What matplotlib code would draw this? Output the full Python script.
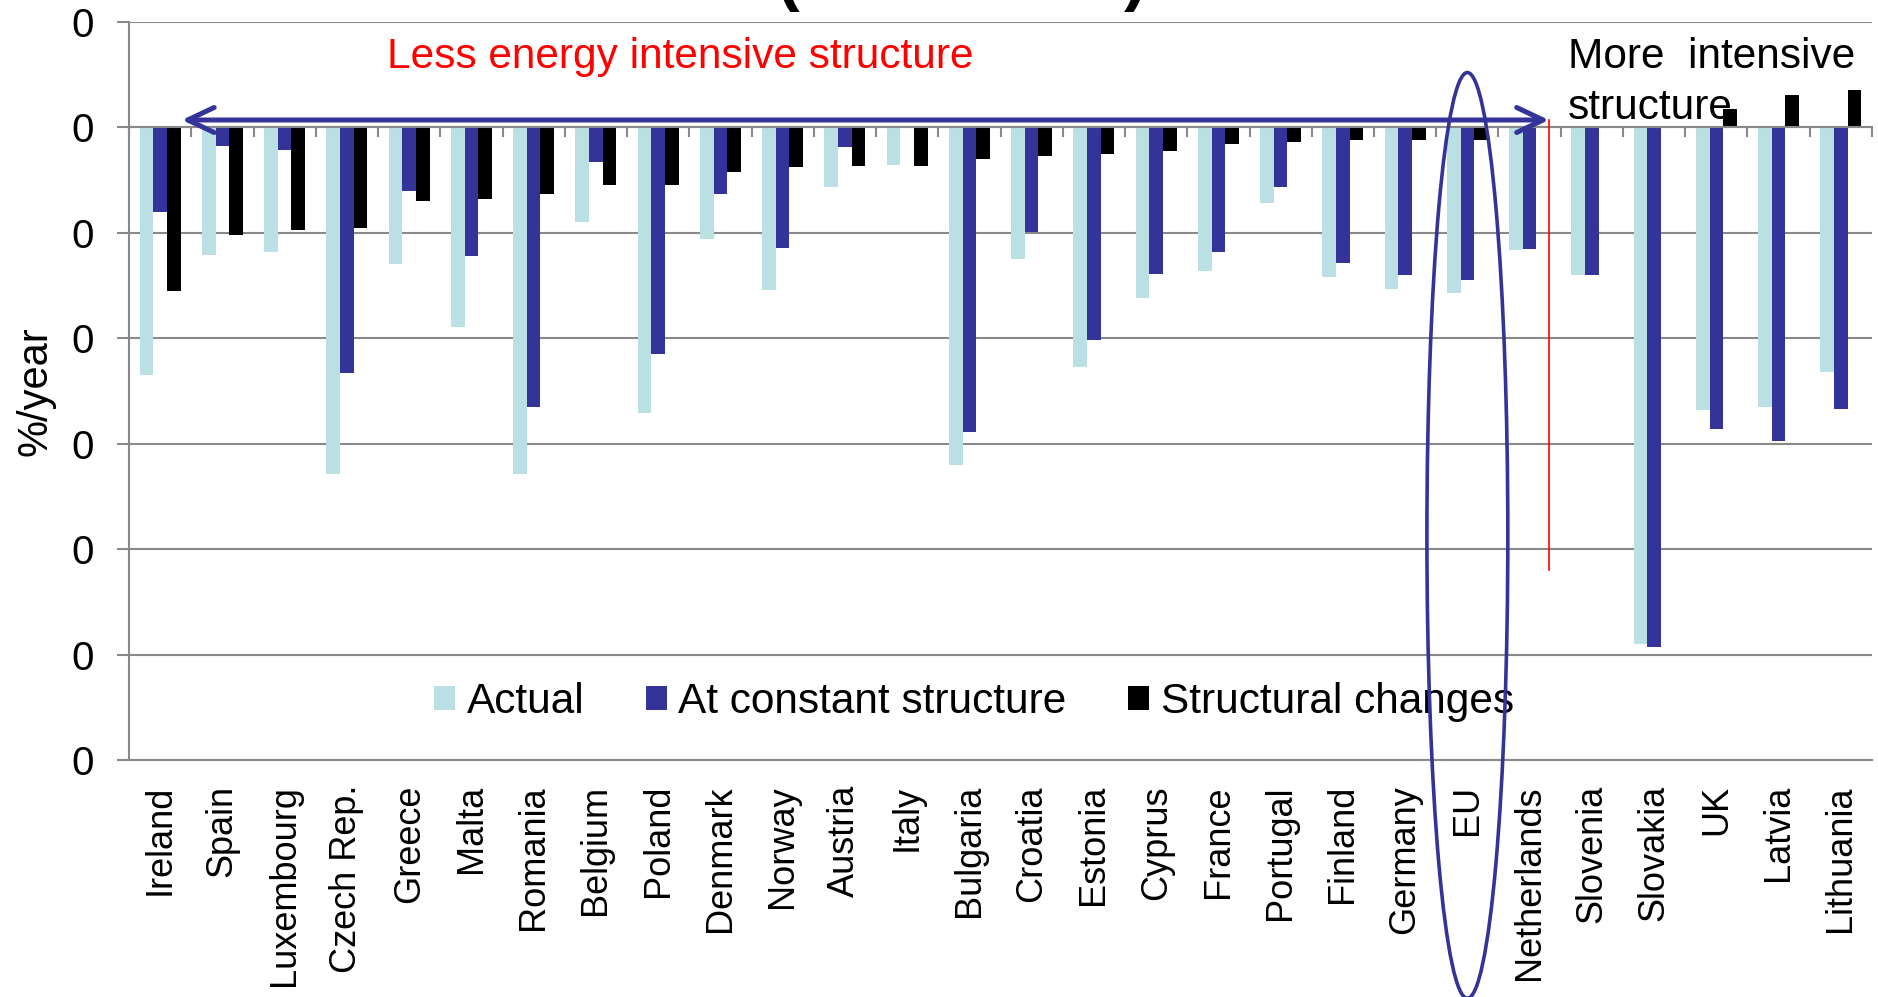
import numpy as np
from matplotlib import pyplot as plt
from matplotlib.patches import Ellipse

countries = ["Ireland", "Spain", "Luxembourg", "Czech Rep.", "Greece", "Malta", "Romania",
             "Belgium", "Poland", "Denmark", "Norway", "Austria", "Italy", "Bulgaria",
             "Croatia", "Estonia", "Cyprus", "France", "Portugal", "Finland", "Germany",
             "EU", "Netherlands", "Slovenia", "Slovakia", "UK", "Latvia", "Lithuania"]
actual = [-2.35, -1.21, -1.18, -3.29, -1.30, -1.89, -3.29, -0.90, -2.71, -1.06, -1.54, -0.57,
          -0.36, -3.20, -1.25, -2.27, -1.62, -1.36, -0.72, -1.42, -1.53, -1.57, -1.16, -1.40,
          -4.90, -2.68, -2.65, -2.32]
constant = [-0.80, -0.18, -0.21, -2.33, -0.60, -1.22, -2.65, -0.33, -2.15, -0.63, -1.14, -0.19,
            -0.01, -2.89, -0.99, -2.02, -1.39, -1.18, -0.57, -1.29, -1.40, -1.45, -1.15, -1.40,
            -4.93, -2.86, -2.97, -2.67]
structural = [-1.55, -1.02, -0.97, -0.95, -0.70, -0.68, -0.63, -0.55, -0.55, -0.42, -0.38, -0.37,
              -0.37, -0.30, -0.27, -0.25, -0.22, -0.16, -0.14, -0.12, -0.12, -0.12, 0.0, 0.01,
              0.01, 0.17, 0.31, 0.35]
series_names = ["Actual", "At constant structure", "Structural changes"]
yticks = [1, 0, -1, -2, -3, -4, -5, -6]
ytick_labels = ["0", "0", "0", "0", "0", "0", "0", "0"]

plt.rcParams['font.family'] = ['Liberation Sans', 'DejaVu Sans']
grey = "#898989"
navy = "#333399"

fig = plt.figure(figsize=(18.78, 9.97), dpi=100)
ax = fig.add_axes([0.0687, 0.2377, 0.9281, 0.7403])

x = np.arange(len(countries))
w = 0.22
ax.bar(x - w, actual, w, color="#BBE0E3", label=series_names[0], zorder=2)
ax.bar(x, constant, w, color=navy, label=series_names[1], zorder=2)
ax.bar(x + w, structural, w, color="black", label=series_names[2], zorder=2)

ax.set_xlim(-0.5, len(countries) - 0.5)
ax.set_ylim(-6, 1)
ax.set_yticks(yticks)
ax.set_yticklabels(ytick_labels, fontsize=29)
ax.tick_params(axis='y', direction='out', length=9, width=1.5, color=grey, pad=16)
ax.yaxis.grid(True, color=grey, lw=1.5)
ax.set_axisbelow(True)
ax.set_ylabel("%/year", fontsize=30, labelpad=12)

# axis line at zero with tick marks between categories
ax.spines['bottom'].set_position(('data', 0))
ax.spines['bottom'].set_color(grey)
ax.spines['bottom'].set_linewidth(1.5)
ax.set_xticks(np.arange(len(countries) + 1) - 0.5)
ax.tick_params(axis='x', direction='out', length=7, width=1.5, color=grey, labelbottom=False)
for s in ['top', 'right']:
    ax.spines[s].set_visible(False)
ax.spines['left'].set_color(grey)
ax.spines['left'].set_linewidth(1.5)

sec = ax.secondary_xaxis('bottom')
sec.set_xticks(x)
sec.set_xticklabels(countries, rotation=90, fontsize=26)
sec.tick_params(length=0, pad=18)
sec.spines['bottom'].set_color(grey)
sec.spines['bottom'].set_linewidth(1.5)

ax.legend(ncol=3, loc='center', bbox_to_anchor=(0.5186, 0.296), bbox_transform=fig.transFigure,
          frameon=False, fontsize=30.5, handlelength=0.5, handleheight=0.5,
          handletextpad=0.27, columnspacing=1.45)

ax.annotate("", xy=(0.35, 0.07), xytext=(22.31, 0.07),
            arrowprops=dict(arrowstyle="<->,head_length=0.95,head_width=0.45",
                            color=navy, lw=3.6, mutation_scale=20, shrinkA=0, shrinkB=0),
            zorder=5)
ax.plot([22.31, 22.31], [0.07, -4.2], color="red", lw=1.2, zorder=5)
ax.text(3.64, 0.67, "Less energy intensive structure", color="red", fontsize=30.5,
        ha='left', va='center')
ax.text(22.62, 0.425, "More  intensive\nstructure", color="black", fontsize=30.5,
        ha='left', va='center', linespacing=1.36)
ax.add_patch(Ellipse((21, -3.87), 1.3, 8.78, fill=False, edgecolor=navy, lw=2.6,
                     clip_on=False, zorder=6))

fig.text(0.512, 1.002, "(2000-2012)", fontsize=49, fontweight='bold', ha='center',
         va='baseline')

fig.savefig("out.png", dpi=100)
